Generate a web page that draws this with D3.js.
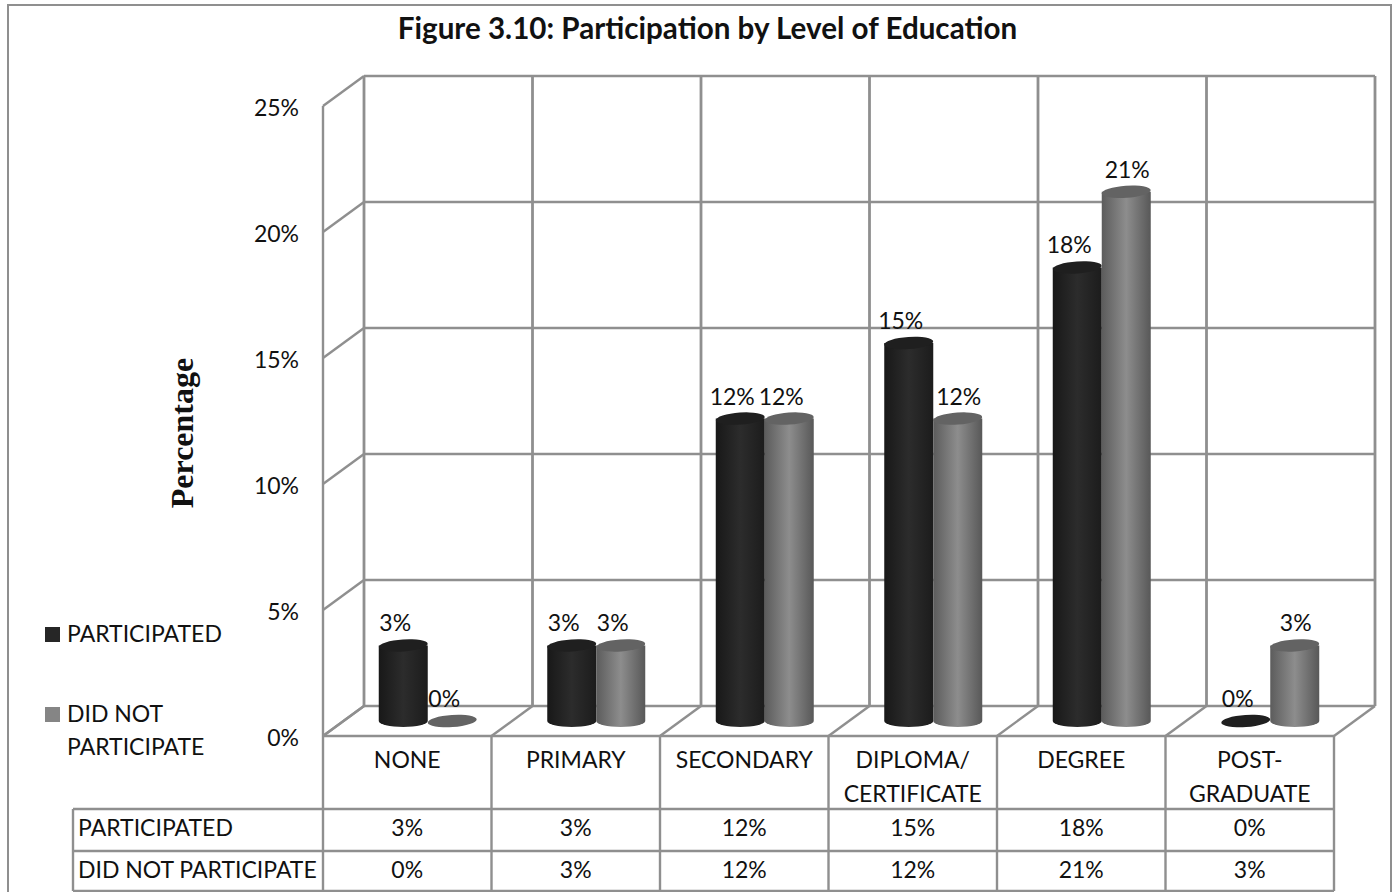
<!DOCTYPE html>
<html>
<head>
<meta charset="utf-8">
<title>Participation by Level of Education</title>
<script src="https://cdn.jsdelivr.net/npm/d3@7"></script>
<style>
  html, body { margin: 0; padding: 0; background: #fff; }
  svg { display: block; }
  text { font-family: Lato, "Open Sans", sans-serif; fill: #111; }
</style>
</head>
<body>
<div id="chart"></div>
<script>
const categories = ['NONE', 'PRIMARY', 'SECONDARY', 'DIPLOMA/ CERTIFICATE', 'DEGREE', 'POST- GRADUATE'];
const seriesNames = ['PARTICIPATED', 'DID NOT PARTICIPATE'];
const participated = [3, 3, 12, 15, 18, 0];
const didNotParticipate = [0, 3, 12, 12, 21, 3];
const yTicks = [0, 5, 10, 15, 20, 25];

const width = 1395;
const height = 892;
const gridColor = '#8f8f8f';
const labelSize = 23;

// depth of the 3D box, the back wall is shifted by this much
const depthX = 41;
const depthY = -30;

const x = d3.scaleBand().domain(categories).range([323, 1334]);
const y = d3.scaleLinear().domain([0, 25]).range([736, 106]);
const sub = d3.scaleBand().domain(seriesNames).range([-49, 49]);
const fmt = (d) => d + '%';

const svg = d3.select('#chart').append('svg')
  .attr('width', width)
  .attr('height', height);

const defs = svg.append('defs');
const shades = [
  { id: 'shadeDark', stops: ['#181818', '#2c2c2c', '#1c1c1c'], top: '#1f1f1f' },
  { id: 'shadeGray', stops: ['#5c5c5c', '#8d8d8d', '#585858'], top: '#636363' },
];
shades.forEach((s) => {
  const g = defs.append('linearGradient').attr('id', s.id);
  g.selectAll('stop').data(s.stops).enter().append('stop')
    .attr('offset', (d, i) => (i * 50) + '%')
    .attr('stop-color', (d) => d);
});

// outer frame, runs off the bottom
svg.append('path')
  .attr('d', 'M8,' + (height + 5) + 'V5H1391V' + (height + 5))
  .attr('fill', 'none')
  .attr('stroke', gridColor)
  .attr('stroke-width', 2);

svg.append('text')
  .attr('x', 707.5)
  .attr('y', 39)
  .attr('text-anchor', 'middle')
  .attr('font-size', 29.6)
  .attr('font-weight', 700)
  .text('Figure 3.10: Participation by Level of Education');

// walls and floor
const grid = svg.append('g')
  .attr('fill', 'none')
  .attr('stroke', gridColor)
  .attr('stroke-width', 2.4);

const xEdges = categories.map((c) => x(c)).concat(x.range()[1]);

grid.selectAll('.back-h').data(yTicks).enter().append('line')
  .attr('x1', x.range()[0] + depthX).attr('x2', x.range()[1] + depthX)
  .attr('y1', (d) => y(d) + depthY).attr('y2', (d) => y(d) + depthY);

grid.selectAll('.side').data(yTicks).enter().append('line')
  .attr('x1', x.range()[0]).attr('x2', x.range()[0] + depthX)
  .attr('y1', (d) => y(d)).attr('y2', (d) => y(d) + depthY);

grid.selectAll('.back-v').data(xEdges).enter().append('line')
  .attr('stroke-width', 2.8)
  .attr('x1', (d) => d + depthX).attr('x2', (d) => d + depthX)
  .attr('y1', y(25) + depthY).attr('y2', y(0) + depthY);

grid.selectAll('.floor').data(xEdges).enter().append('line')
  .attr('x1', (d) => d).attr('x2', (d) => d + depthX)
  .attr('y1', y(0)).attr('y2', y(0) + depthY);

// data table rows and columns
const rowTop = [736, 809, 851, 891];
const tableLeft = 73;

grid.selectAll('.col').data(xEdges).enter().append('line')
  .attr('x1', (d) => d).attr('x2', (d) => d)
  .attr('y1', (d, i) => (i === 0 ? y(25) : rowTop[0]))
  .attr('y2', rowTop[3]);

grid.append('line')
  .attr('x1', x.range()[0]).attr('x2', x.range()[1])
  .attr('y1', rowTop[0]).attr('y2', rowTop[0]);

grid.selectAll('.row').data(rowTop.slice(1)).enter().append('line')
  .attr('x1', tableLeft).attr('x2', x.range()[1])
  .attr('y1', (d) => d).attr('y2', (d) => d);

grid.append('line')
  .attr('x1', tableLeft).attr('x2', tableLeft)
  .attr('y1', rowTop[1]).attr('y2', rowTop[3]);

// y axis labels
svg.selectAll('.y-label').data(yTicks).enter().append('text')
  .attr('x', 299)
  .attr('y', (d) => y(d) + 10)
  .attr('text-anchor', 'end')
  .attr('font-size', labelSize)
  .text(fmt);

svg.append('text')
  .attr('transform', 'translate(193,433) rotate(-90)')
  .attr('text-anchor', 'middle')
  .attr('font-size', 32)
  .attr('font-weight', 700)
  .style('font-family', '"Liberation Serif", serif')
  .text('Percentage');

// cylinders, each sits halfway into the box depth
const rx = sub.bandwidth() / 2;
const ry = 6;
const tilt = -4;

const bars = [];
categories.forEach((c, i) => {
  bars.push({ cat: c, name: seriesNames[0], value: participated[i], other: didNotParticipate[i], shade: shades[0] });
  bars.push({ cat: c, name: seriesNames[1], value: didNotParticipate[i], other: participated[i], shade: shades[1] });
});

const cylinder = svg.selectAll('.cylinder').data(bars).enter().append('g')
  .attr('class', 'cylinder')
  .attr('transform', (d) => 'translate(' +
    (x(d.cat) + x.bandwidth() / 2 + depthX / 2 + sub(d.name) + rx) + ',' + (depthY / 2) + ')');

cylinder.filter((d) => d.value > 0).append('path')
  .attr('fill', (d) => 'url(#' + d.shade.id + ')')
  .attr('d', (d) => {
    const y0 = y(0);
    const y1 = y(d.value);
    return 'M' + (-rx) + ',' + y1 + 'L' + (-rx) + ',' + y0 +
      'A' + rx + ',' + ry + ' 0 0 0 ' + rx + ',' + y0 +
      'L' + rx + ',' + y1 + 'Z';
  });

cylinder.append('ellipse')
  .attr('rx', rx)
  .attr('ry', ry)
  .attr('transform', (d) => 'translate(0,' + y(d.value) + ') rotate(' + tilt + ')')
  .attr('fill', (d) => d.shade.top);

// value labels sit a bit left, gray ones centre when the pair differs
const labelShift = (d) => {
  if (d.name === seriesNames[1] && d.value > 0 && d.value !== d.other) return 1;
  return -8;
};

cylinder.append('text')
  .attr('y', (d) => y(d.value) - 14)
  .attr('dx', labelShift)
  .attr('text-anchor', 'middle')
  .attr('font-size', labelSize)
  .text((d) => fmt(d.value));

// category row of the table
svg.selectAll('.cat-label').data(categories).enter().append('text')
  .attr('text-anchor', 'middle')
  .attr('font-size', labelSize)
  .each(function (c) {
    const lines = c.split(' ');
    d3.select(this).selectAll('tspan').data(lines).enter().append('tspan')
      .attr('x', x(c) + x.bandwidth() / 2)
      .attr('y', (d, i) => 768 + i * 34)
      .text((d) => d);
  });

// value rows of the table
const rows = [
  { name: seriesNames[0], values: participated, base: 836 },
  { name: seriesNames[1], values: didNotParticipate, base: 878 },
];
rows.forEach((r) => {
  svg.append('text')
    .attr('x', tableLeft + 5)
    .attr('y', r.base)
    .attr('font-size', labelSize)
    .text(r.name);
  svg.selectAll(null).data(r.values).enter().append('text')
    .attr('x', (d, i) => x(categories[i]) + x.bandwidth() / 2)
    .attr('y', r.base)
    .attr('text-anchor', 'middle')
    .attr('font-size', labelSize)
    .text(fmt);
});

// legend
svg.append('rect').attr('x', 45).attr('y', 627).attr('width', 15).attr('height', 15).attr('fill', '#262626');
svg.append('rect').attr('x', 45).attr('y', 707).attr('width', 15).attr('height', 15).attr('fill', '#858585');
svg.append('text').attr('x', 67).attr('y', 642).attr('font-size', labelSize).text('PARTICIPATED');
svg.append('text').attr('x', 67).attr('y', 722).attr('font-size', labelSize).text('DID NOT');
svg.append('text').attr('x', 67).attr('y', 755).attr('font-size', labelSize).text('PARTICIPATE');
</script>
</body>
</html>
